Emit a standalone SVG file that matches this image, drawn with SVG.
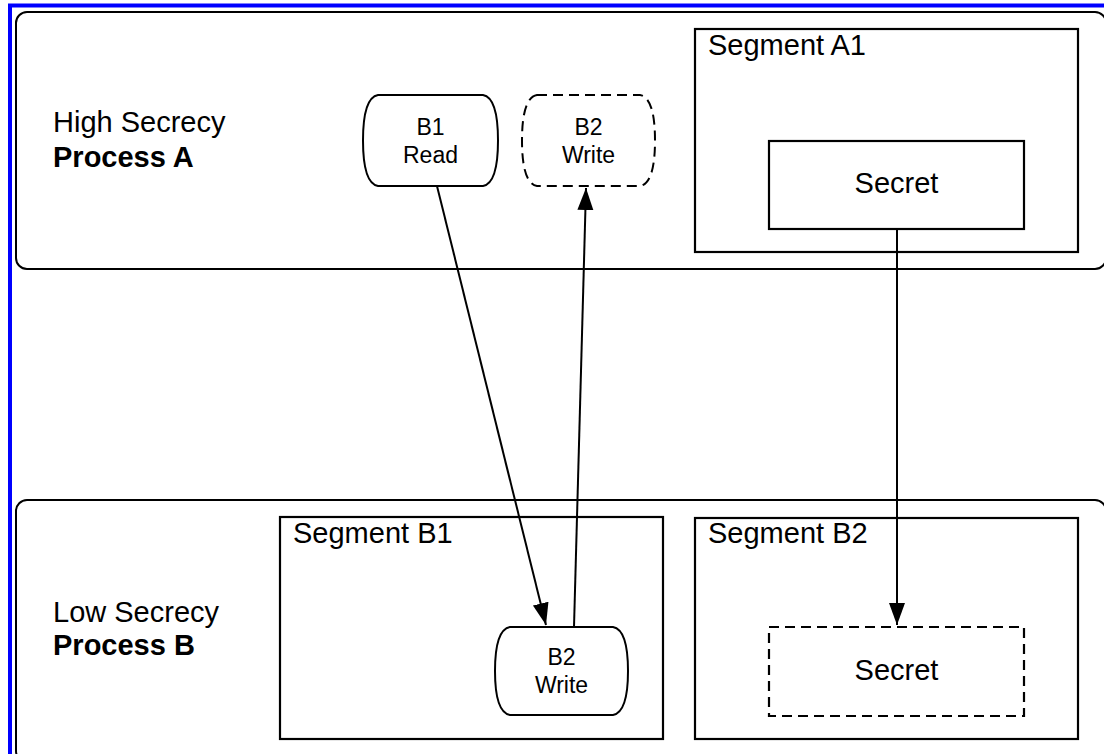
<svg xmlns="http://www.w3.org/2000/svg" width="1104" height="754" viewBox="0 0 1104 754">
  <defs>
    <style>
      .frame { fill: none; stroke: #0000ff; stroke-width: 4; }
      .proc { fill: #ffffff; stroke: #000000; stroke-width: 2; }
      .seg { fill: #ffffff; stroke: #000000; stroke-width: 2.2; }
      .dash { stroke-dasharray: 10 6; }
      .lbl { font-family: "Liberation Sans", Arial, Helvetica, sans-serif; font-size: 29px; fill: #000000; }
      .bold { font-weight: bold; }
      .small { font-family: "Liberation Sans", Arial, Helvetica, sans-serif; font-size: 23px; fill: #000000; text-anchor: middle; }
      .mid { text-anchor: middle; }
      .conn { fill: none; stroke: #000000; stroke-width: 2; }
    </style>
    <marker id="arrow" markerUnits="userSpaceOnUse" markerWidth="24" markerHeight="18" refX="22" refY="8" orient="auto">
      <path d="M0,0 L22,8 L0,16 Z" fill="#000000"/>
    </marker>
  </defs>

  <rect width="1104" height="754" fill="#ffffff"/>
  <rect class="frame" x="10" y="5.5" width="1200" height="1000"/>

  <!-- High secrecy process -->
  <g id="process-a">
    <rect class="proc" x="16" y="12" width="1090" height="257" rx="11" ry="11"/>
    <text class="lbl" x="53" y="132">High Secrecy</text>
    <text class="lbl bold" x="53" y="167">Process A</text>
  </g>

  <!-- Low secrecy process -->
  <g id="process-b">
    <rect class="proc" x="16" y="500" width="1090" height="262" rx="11" ry="11"/>
    <text class="lbl" x="53" y="622">Low Secrecy</text>
    <text class="lbl bold" x="53" y="655">Process B</text>
  </g>

  <g id="segment-a1">
    <rect class="seg" x="695" y="29" width="383" height="223"/>
    <text class="lbl" x="708" y="55">Segment A1</text>
  </g>

  <g id="secret-a1">
    <rect class="seg" x="769" y="141" width="255" height="88"/>
    <text class="lbl mid" x="896.5" y="193">Secret</text>
  </g>

  <g id="segment-b1">
    <rect class="seg" x="280" y="517" width="383" height="222"/>
    <text class="lbl" x="293" y="543">Segment B1</text>
  </g>

  <g id="segment-b2">
    <rect class="seg" x="695" y="518" width="383" height="221"/>
    <text class="lbl" x="708" y="543">Segment B2</text>
  </g>

  <g id="secret-b2">
    <rect class="seg dash" x="769" y="627" width="255" height="89"/>
    <text class="lbl mid" x="896.5" y="680">Secret</text>
  </g>

  <!-- barrel-shaped buffer nodes: flat top/bottom, bulging sides -->
  <g id="b1-read">
    <path class="proc" d="M378,95 H483 C494,97 498,115 498,140.5 C498,166 494,184 483,186 H378 C367,184 363,166 363,140.5 C363,115 367,97 378,95 Z"/>
    <text class="small" x="430.5" y="135">B1</text>
    <text class="small" x="430.5" y="163">Read</text>
  </g>

  <g id="b2-write-a">
    <path class="proc dash" d="M537,95 H640 C651,97 655,115 655,140.5 C655,166 651,184 640,186 H537 C526,184 522,166 522,140.5 C522,115 526,97 537,95 Z"/>
    <text class="small" x="588.5" y="135">B2</text>
    <text class="small" x="588.5" y="163">Write</text>
  </g>

  <g id="b2-write-b">
    <path class="proc" d="M510,627 H613 C624,629 628,647 628,671 C628,695 624,713 613,715 H510 C499,713 495,695 495,671 C495,647 499,629 510,627 Z"/>
    <text class="small" x="561.5" y="665">B2</text>
    <text class="small" x="561.5" y="693">Write</text>
  </g>

  <g id="connectors">
    <line class="conn" x1="437" y1="186" x2="546" y2="625" marker-end="url(#arrow)"/>
    <line class="conn" x1="574" y1="627" x2="586" y2="188" marker-end="url(#arrow)"/>
    <line class="conn" x1="897" y1="229" x2="897" y2="625" marker-end="url(#arrow)"/>
  </g>
</svg>
